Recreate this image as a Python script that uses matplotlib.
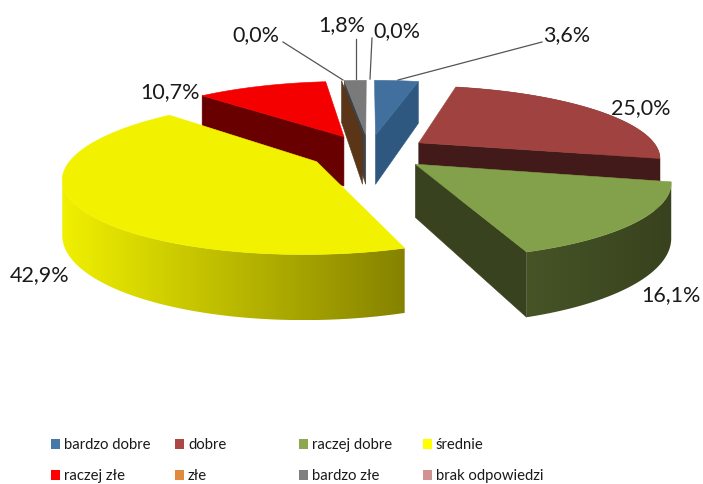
import numpy as np
import matplotlib
matplotlib.use("Agg")
import matplotlib.pyplot as plt
from matplotlib.patches import Polygon, Rectangle
from matplotlib.colors import to_rgb

categories = ["bardzo dobre", "dobre", "raczej dobre", "średnie",
              "raczej złe", "złe", "bardzo złe", "brak odpowiedzi"]
values = [3.6, 25.0, 16.1, 42.9, 10.7, 0.0, 1.8, 0.0]
pct_labels = ["3,6%", "25,0%", "16,1%", "42,9%", "10,7%", "0,0%", "1,8%", "0,0%"]
legend_colors = ["#4878a8", "#ab4744", "#8ea84f", "#ffff00",
                 "#ff0000", "#e08a3e", "#7f7f7f", "#d19392"]
top_colors = ["#41709f", "#a04340", "#83a04a", "#f2f200",
              "#f50000", "#e08a3e", "#7a7a7a", "#d19392"]
wall_left = ["#2f5880", "#431a1a", "#465426", "#f0f000",
             "#680000", "#5a3517", "#3e4145", "#d19392"]
wall_right = ["#2f5880", "#431a1a", "#38421e", "#858200",
              "#680000", "#5a3517", "#3e4145", "#d19392"]
label_xy = [(567, 35), (641, 108), (671, 295), (40, 275),
            (170, 92), (256, 35), (342, 25), (397, 31)]
leaders = {0: ((542, 43), (398, 81)), 5: ((283, 43), (343, 81)),
           6: ((356, 40), (356, 80)), 7: ((372, 39), (370, 80))}

# projection of the exploded pie
XP, YP, RX, RY, PERSP, DEPTH, EXPLODE = 369, 153, 241, 71, 0.19, 51.5, 0.25


def project(X, Y, z=0.0):
    s = 1.0 / (1.0 - PERSP * Y)
    return XP + RX * X * s, YP + RY * Y * s + DEPTH * z * s


def pt(theta, m, r=1.0, z=0.0):
    X = EXPLODE * np.sin(m) + r * np.sin(theta)
    Y = -EXPLODE * np.cos(m) - r * np.cos(theta)
    return project(X, Y, z)


def arc(a, b, m, z=0.0, n=120):
    return [pt(t, m, 1.0, z) for t in np.linspace(a, b, n)]


def quad(a, m):
    return [pt(a, m, 0.0), pt(a, m), pt(a, m, 1.0, 1.0), pt(a, m, 0.0, 1.0)]


fig = plt.figure(figsize=(7.03, 4.85), dpi=100)
ax = fig.add_axes([0, 0, 1, 1])
ax.set_xlim(0, 703)
ax.set_ylim(485, 0)
ax.axis("off")
plt.rcParams["font.family"] = ["Lato", "DejaVu Sans"]

edges = np.radians(np.concatenate([[0], np.cumsum(values)]) / np.sum(values) * 360)


def add(points, color, z):
    ax.add_patch(Polygon(points, closed=True, fc=color, ec=color, lw=0.4, zorder=z))


def outer_wall(a, b, m, i, z):
    # only the part of the rim between the silhouette extremes faces the viewer
    ts = np.linspace(a, b, 400)
    xs = np.array([pt(t, m)[0] for t in ts])
    lo, hi = ts[np.argmax(xs)], ts[np.argmin(xs)]
    a2, b2 = (lo, hi) if lo < hi else (a, b)
    outline = arc(a2, b2, m) + arc(b2, a2, m, 1.0)
    poly = Polygon(outline, closed=True, fc="none", ec="none", transform=ax.transData)
    ax.add_patch(poly)
    px = [p[0] for p in outline]
    py = [p[1] for p in outline]
    c0, c1 = np.array(to_rgb(wall_left[i])), np.array(to_rgb(wall_right[i]))
    f = np.linspace(0, 1, 256)[:, None]
    grad = (c0 + (c1 - c0) * f)[None, :, :]
    im = ax.imshow(grad, extent=(min(px), max(px), max(py), min(py)), aspect="auto",
                   interpolation="bilinear", zorder=z)
    im.set_clip_path(poly)


# far-to-near order of the slices
order = [0, 7, 6, 5, 4, 1, 3, 2]
for k, i in enumerate(order):
    a, b = edges[i], edges[i + 1]
    m = 0.5 * (a + b)
    z = 2 + 2 * k
    if i == 0:                    # right cut wall
        add(quad(b, m), wall_left[i], z)
    elif i == 1:
        outer_wall(a, b, m, i, z)
        add(quad(b, m), wall_left[i], z)
    elif i == 2:
        outer_wall(a, b, m, i, z)
        add(quad(b, m), "#38421e", z)
    elif i == 3:
        outer_wall(a, b, m, i, z)
    elif i in (4, 5, 6):          # left cut wall
        add(quad(a, m), wall_left[i], z)
    if values[i] > 0:
        add([pt(a, m, 0.0)] + arc(a, b, m), top_colors[i], z + 1)

ax.set_xlim(0, 703)
ax.set_ylim(485, 0)

for i, (start, end) in leaders.items():
    ax.plot([start[0], end[0]], [start[1], end[1]], color="#555555", lw=0.9, zorder=30)
for lab, (x, y) in zip(pct_labels, label_xy):
    ax.text(x, y, lab, ha="center", va="center", fontsize=15.5, color="#1a1a1a", zorder=31)

col_x = [51, 175, 299, 423]
row_y = [445, 476]
for i, (name, col) in enumerate(zip(categories, legend_colors)):
    x, y = col_x[i % 4], row_y[i // 4]
    ax.add_patch(Rectangle((x, y - 5), 9, 10, fc=col, ec="none", zorder=5))
    ax.text(x + 13, y, name, ha="left", va="center", fontsize=10.7, color="#1a1a1a")

fig.savefig("out.png", dpi=100, facecolor="white")
